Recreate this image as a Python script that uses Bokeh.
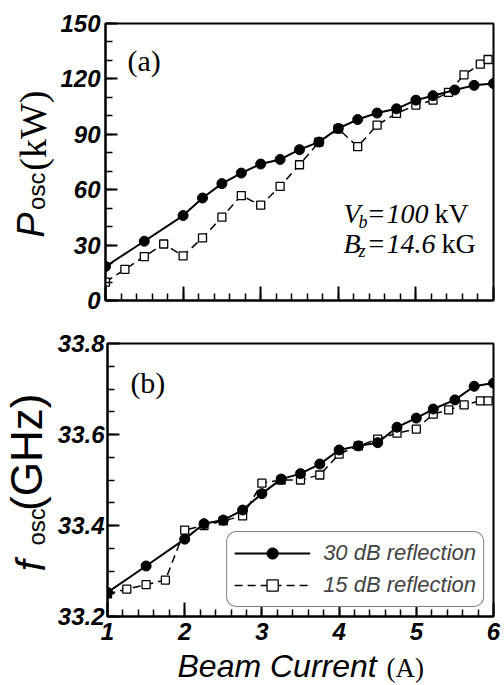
import math
from bokeh.plotting import figure
from bokeh.models import Range1d, FixedTicker, Label, Legend, LegendItem, PrintfTickFormatter
from bokeh.layouts import column, row
from bokeh.embed import file_html
from bokeh.resources import INLINE

# ---------------- data ----------------
current_30 = [1.0, 1.5, 2.0, 2.25, 2.5, 2.75, 3.0, 3.25, 3.5, 3.75, 4.0, 4.25,
              4.5, 4.75, 5.0, 5.22, 5.5, 5.75, 6.0]
power_30 = [18.4, 32.1, 46.0, 55.5, 63.3, 69.0, 73.9, 76.4, 81.7, 85.8, 93.2, 98.0,
            101.5, 103.8, 108.5, 110.9, 114.0, 116.5, 117.5]
freq_30 = [33.253, 33.311, 33.370, 33.404, 33.412, 33.434, 33.470, 33.502, 33.514,
           33.535, 33.566, 33.575, 33.582, 33.616, 33.636, 33.656, 33.676, 33.706, 33.713]

current_15 = [1.0, 1.25, 1.5, 1.75, 2.0, 2.25, 2.5, 2.75, 3.0, 3.25, 3.5, 3.75, 4.0,
              4.25, 4.5, 4.75, 5.0, 5.22, 5.42, 5.62, 5.83, 5.93]
power_15 = [10.0, 16.9, 23.8, 30.6, 24.2, 33.9, 45.1, 56.8, 51.6, 61.8, 73.5, 85.8, 93.0,
            83.3, 95.0, 101.3, 105.8, 108.5, 112.7, 122.2, 128.0, 130.5]
freq_15 = [33.25, 33.26, 33.27, 33.28, 33.39, 33.40, 33.41, 33.421, 33.493, 33.50, 33.50,
           33.511, 33.557, 33.575, 33.59, 33.603, 33.612, 33.645, 33.654, 33.665, 33.674, 33.674]

x_ticks = [1, 2, 3, 4, 5, 6]
x_minor = [1 + 0.2 * i for i in range(26)]
p_ticks = [0, 30, 60, 90, 120, 150]
p_minor = list(range(0, 151, 10))
f_ticks = [33.2, 33.4, 33.6, 33.8]
f_minor = [33.2 + 0.05 * i for i in range(13)]

legend_30 = "30 dB reflection"
legend_15 = "15 dB reflection"

# ---------------- geometry (page px, origin top-left) ----------------
W = 504
TW1, TW2 = 56, 54        # widths of the y-title strips
FL, FR = 105, 493        # frame left/right
T1, B1 = 23, 300         # top panel frame
H1 = 318                 # top row height
T2, B2 = 343, 616        # bottom panel frame
H2 = 331                 # bottom row height
H3 = 685 - H1 - H2       # x-title strip
KB = 0.35                # baseline correction (fraction of font size)

def dx(px):
    return 1 + (px - FL) / (FR - FL) * 5

def dy1(py):
    return (B1 - py) / (B1 - T1) * 150

def dy2(py):
    return 33.2 + (B2 - py) / (B2 - T2) * 0.6

SANS = "Liberation Sans"
SERIF = "Liberation Serif"


def make_fig(tw, height, top0, ftop, fbot, yr, yt, ym, ystand, xstand):
    p = figure(width=W - tw, height=height, x_range=Range1d(1, 6), y_range=yr,
               output_backend="svg", toolbar_location=None,
               min_border_left=FL - tw, min_border_right=W - FR,
               min_border_top=ftop - top0, min_border_bottom=top0 + height - fbot)
    p.grid.visible = False
    p.outline_line_color = "black"
    p.outline_line_width = 2
    p.background_fill_color = "white"
    p.border_fill_color = "white"
    p.xaxis.ticker = FixedTicker(ticks=x_ticks, minor_ticks=x_minor)
    p.yaxis.ticker = FixedTicker(ticks=yt, minor_ticks=ym)
    for ax in (p.xaxis[0], p.yaxis[0]):
        ax.axis_line_width = 2
        ax.major_tick_out = 0
        ax.minor_tick_out = 0
        ax.major_tick_line_width = 2
        ax.minor_tick_line_width = 1.5
        ax.major_label_text_font = SANS
        ax.major_label_text_font_style = "bold italic"
        ax.major_label_text_font_size = "24px"
        ax.major_label_text_color = "black"
    p.xaxis.major_tick_in = 14
    p.xaxis.minor_tick_in = 7
    p.yaxis.major_tick_in = 12
    p.yaxis.minor_tick_in = 7
    p.yaxis.major_label_standoff = ystand
    p.xaxis.major_label_standoff = xstand
    return p


def strip(width, x0, y0, height):
    s = figure(width=width, height=height, x_range=Range1d(x0, x0 + width),
               y_range=Range1d(y0 + height, y0), output_backend="svg",
               toolbar_location=None, x_axis_location=None, y_axis_location=None,
               min_border=0)
    s.grid.visible = False
    s.outline_line_color = None
    s.background_fill_color = "white"
    s.border_fill_color = "white"
    return s


p1 = make_fig(TW1, H1, 0, T1, B1, Range1d(0, 150), p_ticks, p_minor, 5, 8)
p1.yaxis.formatter = PrintfTickFormatter(format="%d")
p1.xaxis.major_label_overrides = {t: "" for t in x_ticks}

p2 = make_fig(TW2, H2, H1, T2, B2, Range1d(33.2, 33.8), f_ticks, f_minor, 3, 6)
p2.yaxis.formatter = PrintfTickFormatter(format="%.1f")
p2.xaxis.formatter = PrintfTickFormatter(format="%d")

renders = {}
for p, y30, y15 in ((p1, power_30, power_15), (p2, freq_30, freq_15)):
    l15 = p.line(current_15, y15, line_color="black", line_width=1.5, line_dash="8 5")
    s15 = p.scatter(current_15, y15, marker="square", size=8, fill_color="white",
                    line_color="black", line_width=1.3)
    l30 = p.line(current_30, y30, line_color="black", line_width=2)
    c30 = p.scatter(current_30, y30, marker="circle", size=10, fill_color="black",
                    line_color="black")
    renders[id(p)] = (l30, c30, l15, s15)

l30, c30, l15, s15 = renders[id(p2)]
legend = Legend(items=[LegendItem(label=legend_30, renderers=[l30, c30]),
                       LegendItem(label=legend_15, renderers=[l15, s15])],
                location="bottom_right", label_text_font=SANS,
                label_text_font_style="italic", label_text_font_size="22px",
                glyph_width=76, glyph_height=28, label_height=28, spacing=4,
                padding=7, margin=9, label_standoff=13,
                border_line_color="black", border_line_width=1.5,
                background_fill_color="white", background_fill_alpha=1)
if "border_radius" in Legend.properties():
    legend.border_radius = 10
p2.add_layout(legend)


def lab(p, fx, fy, px, py, text, font, style, size, rotated=False):
    """(px, py): page position of the start of the text on its baseline."""
    if rotated:
        ax, ay, ang = px - KB * size, py, math.pi / 2
    else:
        ax, ay, ang = px, py - KB * size, 0.0
    p.add_layout(Label(x=fx(ax), y=fy(ay), text=text, text_font=font,
                       text_font_style=style, text_font_size=f"{size}px", angle=ang,
                       text_align="left", text_baseline="alphabetic",
                       text_color="black"))

ident = lambda v: v

# panel tags
lab(p1, dx, dy1, 127, 70, "(a)", SERIF, "normal", 30)
lab(p2, dx, dy2, 128, 392, "(b)", SERIF, "normal", 30)

# operating conditions
lab(p1, dx, dy1, 343, 223, "V", SERIF, "italic", 28)
lab(p1, dx, dy1, 358, 228, "b", SERIF, "italic", 18)
lab(p1, dx, dy1, 368, 223, "=", SERIF, "normal", 28)
lab(p1, dx, dy1, 386, 223, "100", SERIF, "italic", 28)
lab(p1, dx, dy1, 434, 223, "kV", SERIF, "normal", 28)
lab(p1, dx, dy1, 343, 253, "B", SERIF, "italic", 28)
lab(p1, dx, dy1, 358, 257, "z", SERIF, "italic", 18)
lab(p1, dx, dy1, 368, 253, "=", SERIF, "normal", 28)
lab(p1, dx, dy1, 386, 253, "14.6", SERIF, "italic", 28)
lab(p1, dx, dy1, 441, 253, "kG", SERIF, "normal", 28)

# y titles (rotated), in their own strips
yt1 = strip(TW1, 0, 0, H1)
lab(yt1, ident, ident, 44, 246, "P", SANS, "italic", 38, True)
lab(yt1, ident, ident, 44, 214, "osc", SANS, "normal", 24, True)
lab(yt1, ident, ident, 46, 169, "(kW)", SERIF, "normal", 38, True)

yt2 = strip(TW2, 0, H1, H2)
lab(yt2, ident, ident, 44, 594, "f", SANS, "italic", 40, True)
lab(yt2, ident, ident, 44, 563, "osc", SANS, "normal", 24, True)
lab(yt2, ident, ident, 41, 521, "(GHz)", SANS, "normal", 44, True)

# x title strip
xt = strip(W, 0, H1 + H2, H3)
lab(xt, ident, ident, 177, 677, "Beam Current", SANS, "italic", 32)
lab(xt, ident, ident, 386, 677, "(A)", SERIF, "normal", 27)

layout = column(row(yt1, p1, spacing=0), row(yt2, p2, spacing=0), xt, spacing=0)
open("out.html", "w").write(file_html(layout, INLINE))
